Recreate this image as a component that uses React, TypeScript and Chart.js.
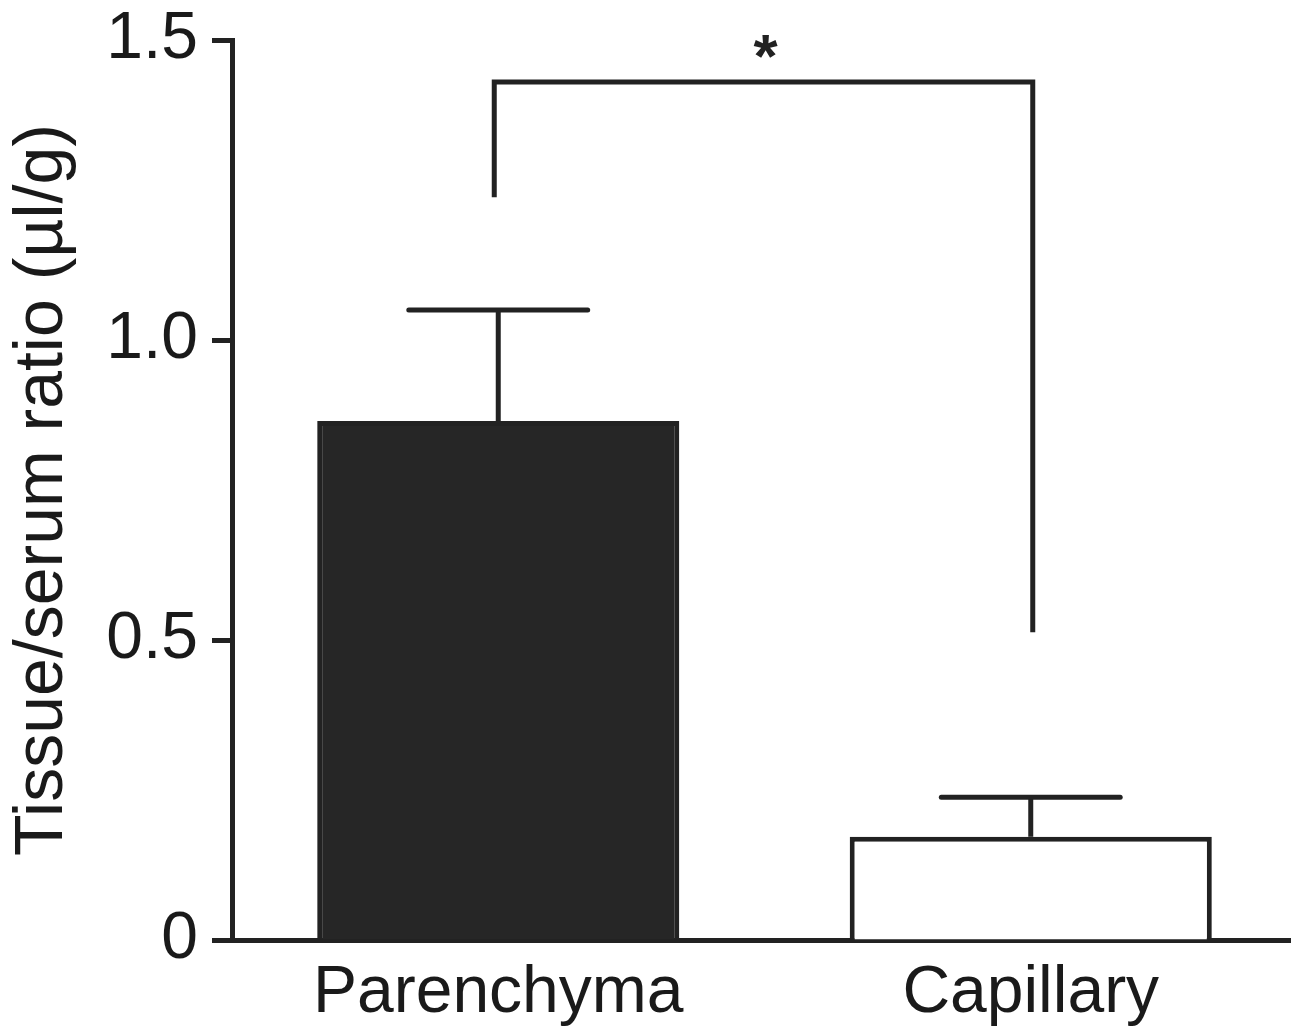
import React, { useEffect, useRef } from "react";
import { Chart, registerables } from "chart.js";

Chart.register(...registerables);

const categories = ["Parenchyma", "Capillary"];
const meanValues = [0.865, 0.172];
const errorUpper = [1.05, 0.238];
const barFills = ["#262626", "#ffffff"];
const yTicks = [0, 0.5, 1.0, 1.5];
const yTickLabels = ["0", "0.5", "1.0", "1.5"];
const bracketLeftBottom = 1.238;
const bracketTop = 1.43;
const bracketRightBottom = 0.513;
const significanceLabel = "*";
const yTitle = "Tissue/serum ratio (µl/g)";

const INK = "#222222";
const FONT = "'Liberation Sans', Arial, Helvetica, sans-serif";

const annotationPlugin = {
  id: "errorsAndBracket",
  afterDatasetsDraw(chart: any) {
    const { ctx } = chart;
    const meta = chart.getDatasetMeta(0);
    const y = chart.scales.y;
    ctx.save();
    ctx.strokeStyle = INK;
    ctx.lineWidth = 5;
    ctx.lineCap = "butt";
    ctx.lineJoin = "miter";
    meta.data.forEach((bar: any, i: number) => {
      const cx = bar.x;
      const yTop = y.getPixelForValue(meanValues[i]);
      const yErr = y.getPixelForValue(errorUpper[i]);
      const half = bar.width * 0.247;
      ctx.beginPath();
      ctx.moveTo(cx, yTop);
      ctx.lineTo(cx, yErr);
      ctx.stroke();
      ctx.lineCap = "round";
      ctx.beginPath();
      ctx.moveTo(cx - half, yErr);
      ctx.lineTo(cx + half, yErr);
      ctx.stroke();
      ctx.lineCap = "butt";
    });
    const x0 = meta.data[0].x - 4;
    const x1 = meta.data[1].x + 2;
    const yl = y.getPixelForValue(bracketLeftBottom);
    const yt = y.getPixelForValue(bracketTop);
    const yr = y.getPixelForValue(bracketRightBottom);
    ctx.beginPath();
    ctx.moveTo(x0, yl);
    ctx.lineTo(x0, yt);
    ctx.lineTo(x1, yt);
    ctx.lineTo(x1, yr);
    ctx.stroke();
    ctx.fillStyle = INK;
    ctx.font = `bold 62px ${FONT}`;
    ctx.textAlign = "center";
    ctx.textBaseline = "alphabetic";
    ctx.fillText(significanceLabel, (x0 + x1) / 2 + 2, yt - 5);
    ctx.restore();
  },
};

export default function App() {
  const ref = useRef<HTMLCanvasElement | null>(null);
  useEffect(() => {
    if (!ref.current) return;
    const chart = new Chart(ref.current, {
      type: "bar",
      data: {
        labels: categories,
        datasets: [
          {
            data: meanValues,
            backgroundColor: barFills,
            borderColor: INK,
            borderWidth: 5,
            borderSkipped: "start",
            barPercentage: 0.68,
            categoryPercentage: 1,
          },
        ],
      },
      options: {
        responsive: false,
        animation: false,
        layout: { padding: { top: 40, right: 0, left: 0, bottom: 0 } },
        plugins: { legend: { display: false }, tooltip: { enabled: false } },
        scales: {
          x: {
            offset: true,
            grid: { display: false, drawTicks: false },
            border: { display: true, color: INK, width: 5 },
            ticks: {
              color: "#1a1a1a",
              font: { size: 66, family: FONT },
              padding: 14,
              maxRotation: 0,
            },
            afterFit: (s: any) => {
              s.height = 89;
              s.paddingLeft = 0;
              s.paddingRight = 0;
            },
          },
          y: {
            min: 0,
            max: 1.5,
            afterBuildTicks: (s: any) => {
              s.ticks = yTicks.map((v) => ({ value: v }));
            },
            grid: {
              drawOnChartArea: false,
              drawTicks: true,
              tickLength: 20,
              tickWidth: 5,
              tickColor: INK,
              color: INK,
            },
            border: { display: true, color: INK, width: 5 },
            ticks: {
              color: "#1a1a1a",
              font: { size: 66, family: FONT },
              padding: 14,
              callback: (_v: any, i: number) => yTickLabels[i],
            },
            title: {
              display: true,
              text: yTitle,
              color: "#1a1a1a",
              font: { size: 68, family: FONT },
              padding: { top: 2, bottom: 0 },
            },
            afterFit: (s: any) => {
              s.width = 232;
              s.paddingTop = 0;
              s.paddingBottom = 0;
            },
          },
        },
      },
      plugins: [annotationPlugin],
    });
    return () => chart.destroy();
  }, []);
  return (
    <div style={{ position: "absolute", left: 0, top: 0, width: 1291, height: 1029, overflow: "hidden", background: "#fff" }}>
      <canvas ref={ref} width={1297} height={1029} />
    </div>
  );
}
